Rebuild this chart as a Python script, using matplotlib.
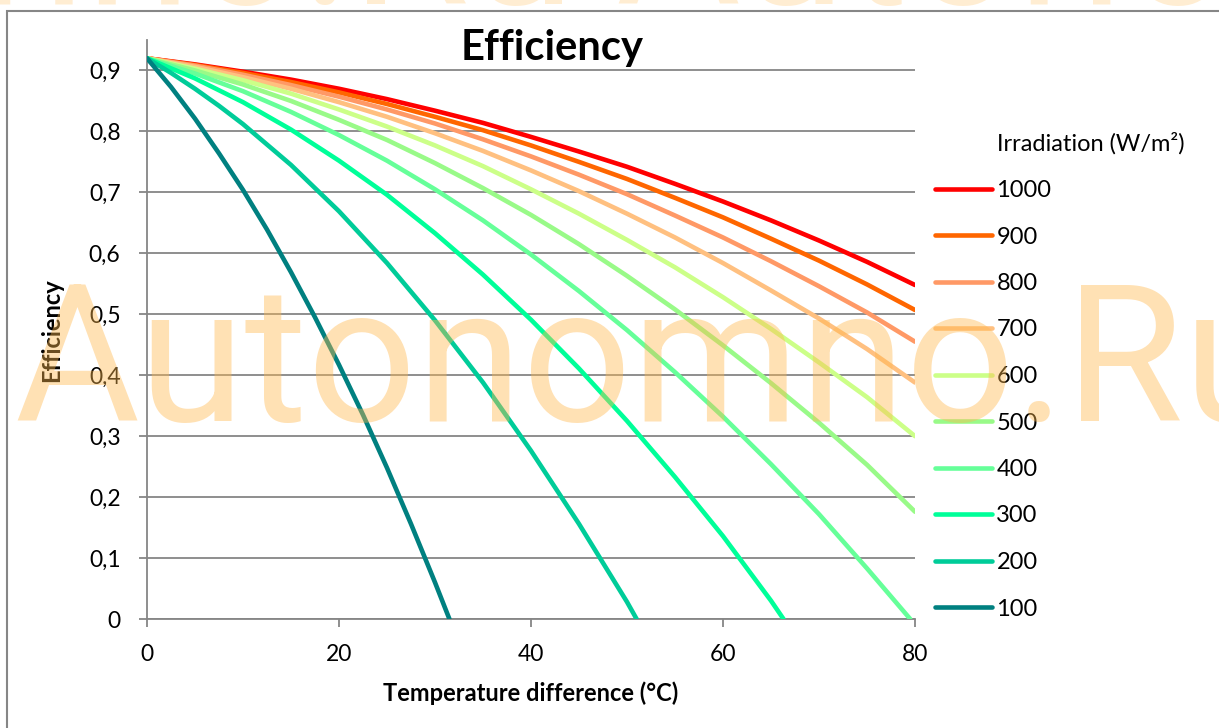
import matplotlib.pyplot as plt
from matplotlib.patches import Rectangle
from matplotlib.ticker import FuncFormatter

# Temperature difference (deg C) and efficiency
temps = [0, 5, 10, 15, 20, 25, 30, 35, 40, 45, 50, 55, 60, 65, 70, 75, 80]
eff_1000 = [0.92, 0.910, 0.898, 0.885, 0.870, 0.853, 0.834, 0.814, 0.791,
            0.767, 0.742, 0.714, 0.685, 0.654, 0.621, 0.586, 0.548]
eff_900 = [0.92, 0.909, 0.896, 0.881, 0.864, 0.845, 0.824, 0.802, 0.777,
           0.750, 0.722, 0.691, 0.659, 0.624, 0.588, 0.549, 0.507]
eff_800 = [0.92, 0.908, 0.893, 0.876, 0.857, 0.836, 0.813, 0.787, 0.759,
           0.729, 0.697, 0.662, 0.626, 0.587, 0.546, 0.503, 0.455]
eff_700 = [0.92, 0.906, 0.889, 0.870, 0.848, 0.824, 0.797, 0.768, 0.736,
           0.702, 0.665, 0.626, 0.584, 0.539, 0.493, 0.443, 0.388]
eff_600 = [0.92, 0.903, 0.884, 0.862, 0.836, 0.808, 0.777, 0.743, 0.705,
           0.665, 0.622, 0.577, 0.528, 0.476, 0.421, 0.364, 0.300]
eff_500 = [0.92, 0.900, 0.877, 0.850, 0.819, 0.786, 0.748, 0.707, 0.663,
           0.615, 0.563, 0.508, 0.449, 0.387, 0.322, 0.253, 0.176]

temps_400 = [0, 5, 10, 15, 20, 25, 30, 35, 40, 45, 50, 55, 60, 65, 70, 75, 79.5]
eff_400 = [0.92, 0.895, 0.866, 0.832, 0.794, 0.752, 0.705, 0.654, 0.598,
           0.538, 0.474, 0.405, 0.332, 0.254, 0.172, 0.083, 0.0]

temps_300 = [0, 5, 10, 15, 20, 25, 30, 35, 40, 45, 50, 55, 60, 65, 66.3]
eff_300 = [0.92, 0.887, 0.848, 0.803, 0.752, 0.696, 0.633, 0.565, 0.491,
           0.411, 0.325, 0.233, 0.136, 0.030, 0.0]

temps_200 = [0, 2.5, 5, 7.5, 10, 15, 20, 25, 30, 35, 40, 45, 50, 51]
eff_200 = [0.92, 0.896, 0.870, 0.842, 0.812, 0.745, 0.669, 0.584, 0.490,
           0.388, 0.276, 0.156, 0.028, 0.0]

temps_100 = [0, 2.5, 5, 7.5, 10, 12.5, 15, 17.5, 20, 22.5, 25, 27.5, 30, 31.5]
eff_100 = [0.92, 0.873, 0.821, 0.764, 0.704, 0.639, 0.569, 0.495, 0.417,
           0.335, 0.248, 0.156, 0.060, 0.0]

labels = ['1000', '900', '800', '700', '600', '500', '400', '300', '200', '100']
colors = ['#FF0000', '#FF6600', '#FF9966', '#FFC080', '#CCFF88',
          '#99FA88', '#66FF99', '#00FF99', '#00CC99', '#008080']

series = [(temps, eff_1000), (temps, eff_900), (temps, eff_800),
          (temps, eff_700), (temps, eff_600), (temps, eff_500),
          (temps_400, eff_400), (temps_300, eff_300),
          (temps_200, eff_200), (temps_100, eff_100)]

plt.rcParams['font.family'] = ['Lato', 'DejaVu Sans']
grey = '#868686'

W, H = 1219, 728
fig = plt.figure(figsize=(W / 100, H / 100), dpi=100)
ax = fig.add_axes([147 / W, 109 / H, 768 / W, 579 / H])

handles = []
for (x, y), col, lab in zip(series, colors, labels):
    ln, = ax.plot(x, y, color=col, lw=3.3, solid_capstyle='round', label=lab, zorder=3)
    handles.append(ln)

ax.set_xlim(0, 80)
ax.set_ylim(0, 0.95)
ax.set_xticks([0, 20, 40, 60, 80])
ax.set_yticks([0, 0.1, 0.2, 0.3, 0.4, 0.5, 0.6, 0.7, 0.8, 0.9])
ax.yaxis.set_major_formatter(FuncFormatter(
    lambda v, p: '0' if abs(v) < 1e-9 else ('%.1f' % v).replace('.', ',')))
ax.grid(axis='y', color=grey, lw=1.3)
ax.set_axisbelow(True)
for s in ['top', 'right']:
    ax.spines[s].set_visible(False)
for s in ['left', 'bottom']:
    ax.spines[s].set_color(grey)
    ax.spines[s].set_linewidth(1.3)
ax.tick_params(axis='both', direction='out', length=6, width=1.3, color=grey,
               labelsize=16.5)
ax.tick_params(axis='x', pad=12)
ax.tick_params(axis='y', pad=13)

fig.text(552 / W, 1 - 48 / H, 'Efficiency', ha='center', va='center',
         fontsize=30, fontweight='bold')
fig.text(531 / W, 1 - 693 / H, 'Temperature difference (°C)', ha='center',
         va='center', fontsize=17, fontweight='bold')
fig.text(52 / W, 1 - 330 / H, 'Efficiency', ha='center', va='center',
         rotation=90, fontsize=17, fontweight='bold')

fig.text(997 / W, 1 - 143 / H, 'Irradiation (W/m²)', ha='left', va='center',
         fontsize=17)
fig.legend(handles=handles, loc='upper left', bbox_to_anchor=(935 / W, 1 - 180 / H),
           frameon=False, borderpad=0, borderaxespad=0, handlelength=2.4,
           handletextpad=0.2, labelspacing=1.08, fontsize=17)

# chart border
fig.patches.append(Rectangle((7 / W, -0.05), 1.1, 1 - 11 / H + 0.05,
                             transform=fig.transFigure, fill=False,
                             edgecolor=grey, lw=1.5, zorder=0))

# watermark
wm = dict(fontsize=138, family=['Roboto', 'DejaVu Sans'], color='#FFB84D',
          ha='left', va='baseline', zorder=10)
fig.text(14 / W, 1 - 421 / H, 'Autonomno.Ru', alpha=0.42, **wm)
fig.text(-700 / W, 1 - 4 / H, 'Autonomno.Ru', alpha=0.25, **wm)
fig.text(615 / W, 1 - 4 / H, 'Autonomno.Ru', alpha=0.25, **wm)

fig.savefig('out.png', dpi=100)
